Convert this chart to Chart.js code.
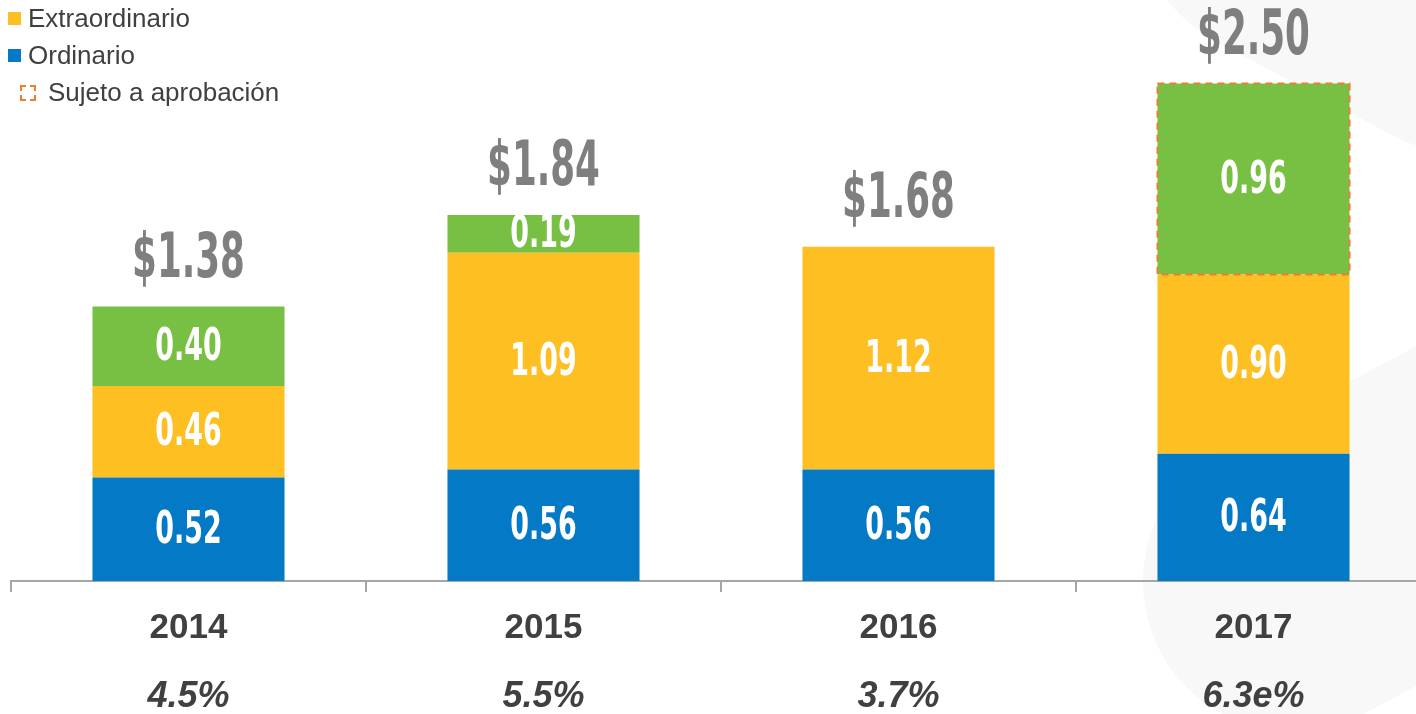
<!DOCTYPE html>
<html>
<head>
<meta charset="utf-8">
<script src="https://cdn.jsdelivr.net/npm/chart.js@4"></script>
<style>
  html, body { margin: 0; padding: 0; background: #fff; overflow: hidden; }
  #wrap { position: relative; width: 1416px; height: 714px; overflow: hidden; }
  #chart { position: absolute; left: 0; top: 0; }
  .blob { position: absolute; background: #f8f8f8; border-radius: 160px; }
  .legend { position: absolute; left: 8px; top: 0px; font-family: "Liberation Sans", Arial, sans-serif; font-size: 26px; color: #404040; }
  .legend div { height: 37px; display: flex; align-items: center; }
  .sw { display: inline-block; width: 13px; height: 13px; margin-right: 7px; }
  .dash { display: inline-block; width: 16px; height: 16px; margin: 0 12px 0 12px; border: 2px dashed #ED7D31; box-sizing: border-box; }
</style>
</head>
<body>
<div id="wrap">
  <div class="blob" style="left:1130px; top:-250px; width:520px; height:360px; transform: rotate(28deg);"></div>
  <div class="blob" style="left:1130px; top:380px; width:520px; height:300px; transform: rotate(-28deg);"></div>
  <canvas id="chart" width="1431" height="714"></canvas>
  <div class="legend">
    <div><span class="sw" style="background:#FDBF21"></span>Extraordinario</div>
    <div><span class="sw" style="background:#047AC6"></span>Ordinario</div>
    <div><span class="dash"></span>Sujeto a aprobación</div>
  </div>
</div>
<script>
const years = ['2014', '2015', '2016', '2017'];
const yields = ['4.5%', '5.5%', '3.7%', '6.3e%'];
const ordinario = [0.52, 0.56, 0.56, 0.64];
const extraordinario = [0.46, 1.09, 1.12, 0.90];
const aprobacion = [0.40, 0.19, 0, 0.96];
const totals = ['$1.38', '$1.84', '$1.68', '$2.50'];
const pendingIndex = 3; // 2017 sujeto a aprobación

const condensed = '"DejaVu Sans Condensed", "DejaVu Sans", sans-serif';

function drawNarrow(ctx, text, x, y, size, scaleX, color) {
    ctx.save();
    ctx.translate(x, y);
    ctx.scale(scaleX, 1);
    ctx.font = `bold ${size}px ${condensed}`;
    ctx.fillStyle = color;
    ctx.textAlign = 'center';
    ctx.textBaseline = 'middle';
    ctx.fillText(text, 0, 0);
    ctx.restore();
}

// etiquetas dentro de las barras, totales, años y rendimientos
const labelPlugin = {
    id: 'labels',
    afterDatasetsDraw(chart) {
        const ctx = chart.ctx;
        const xs = chart.scales.x;

        // borde punteado para el segmento pendiente
        const pend = chart.getDatasetMeta(2).data[pendingIndex];
        ctx.save();
        ctx.strokeStyle = '#ED7D31';
        ctx.lineWidth = 2;
        ctx.setLineDash([7, 5]);
        ctx.strokeRect(pend.x - pend.width / 2, pend.y, pend.width, pend.base - pend.y);
        ctx.restore();

        chart.data.datasets.forEach((ds, di) => {
            chart.getDatasetMeta(di).data.forEach((bar, i) => {
                if (!ds.data[i]) return;
                const cy = (bar.y + bar.base) / 2;
                drawNarrow(ctx, ds.data[i].toFixed(2), bar.x, cy + 2, 44, 0.68, '#fff');
            });
        });

        years.forEach((yr, i) => {
            const x = xs.getPixelForValue(i);
            let top = Infinity;
            chart.data.datasets.forEach((ds, di) => {
                const b = chart.getDatasetMeta(di).data[i];
                if (ds.data[i]) top = Math.min(top, b.y);
            });
            drawNarrow(ctx, totals[i], x, top - 46, 62, 0.64, '#7F7F7F');

            ctx.save();
            ctx.fillStyle = '#404040';
            ctx.textAlign = 'center';
            ctx.textBaseline = 'middle';
            ctx.font = 'bold 35px "Liberation Sans", Arial, sans-serif';
            ctx.fillText(yr, x, 628);
            ctx.font = 'italic bold 36px "Liberation Sans", Arial, sans-serif';
            ctx.fillText(yields[i], x, 697);
            ctx.restore();
        });
    }
};

new Chart(document.getElementById('chart'), {
    type: 'bar',
    data: {
        labels: years,
        datasets: [
            { label: 'Ordinario', data: ordinario, backgroundColor: '#047AC6' },
            { label: 'Extraordinario', data: extraordinario, backgroundColor: '#FDBF21' },
            { label: 'Sujeto a aprobación', data: aprobacion, backgroundColor: '#78C044' }
        ]
    },
    options: {
        responsive: false,
        animation: false,
        layout: { padding: { left: 11, right: 0, top: 0, bottom: 0 } },
        datasets: { bar: { categoryPercentage: 1, barPercentage: 0.541 } },
        plugins: { legend: { display: false }, tooltip: { enabled: false } },
        scales: {
            x: {
                stacked: true,
                offset: true,
                ticks: { display: false },
                grid: { offset: true, drawOnChartArea: false, drawTicks: true, tickLength: 11, color: '#A6A6A6', lineWidth: 2 },
                border: { color: '#A6A6A6', width: 2 },
                afterFit: s => { s.height = 133; }
            },
            y: {
                stacked: true,
                display: false,
                min: 0,
                max: 2.92
            }
        }
    },
    plugins: [labelPlugin]
});
</script>
</body>
</html>
